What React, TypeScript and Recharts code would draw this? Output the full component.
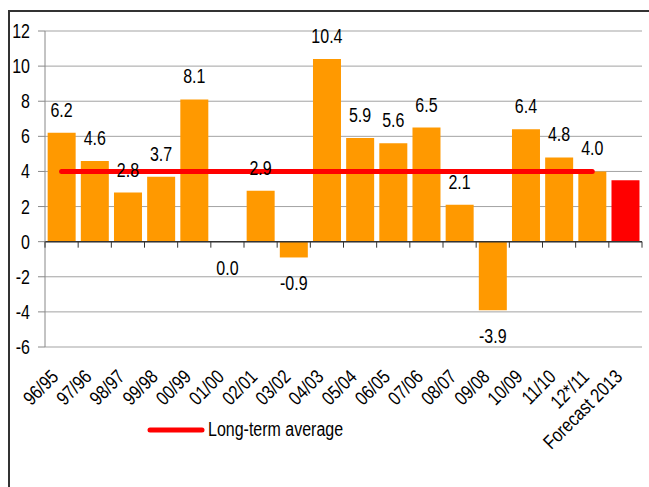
import React from 'react';
import {
  ComposedChart,
  Bar,
  Line,
  Cell,
  XAxis,
  YAxis,
  CartesianGrid,
  ReferenceLine,
  LabelList,
  Legend,
} from 'recharts';

const categories = [
  '96/95', '97/96', '98/97', '99/98', '00/99', '01/00', '02/01', '03/02', '04/03',
  '05/04', '06/05', '07/06', '08/07', '09/08', '10/09', '11/10', '12*/11', 'Forecast 2013',
];
const growth = [6.2, 4.6, 2.8, 3.7, 8.1, 0.0, 2.9, -0.9, 10.4, 5.9, 5.6, 6.5, 2.1, -3.9, 6.4, 4.8, 4.0, 3.5];
const shownLabels = [true, true, true, true, true, true, true, true, true, true, true, true, true, true, true, true, true, false];
const longTermAverage = [4.0, 4.0, 4.0, 4.0, 4.0, 4.0, 4.0, 4.0, 4.0, 4.0, 4.0, 4.0, 4.0, 4.0, 4.0, 4.0, 4.0, null];
const yTicks = [-6, -4, -2, 0, 2, 4, 6, 8, 10, 12];

const W = 649;
const H = 487;
const MARGIN = { top: 31, right: 7, bottom: 30, left: 0 };
const Y_AXIS_W = 45;
const X_AXIS_H = 110;
// Liberation Sans squeezed horizontally stands in for Arial Narrow
const FONT = "'Liberation Sans', Arial, sans-serif";
const FS = 19.5;
const NARROW = 0.82;

const data = categories.map((name, i) => ({
  name,
  value: growth[i],
  label: shownLabels[i] ? growth[i].toFixed(1) : null,
  avg: longTermAverage[i],
  forecast: i === categories.length - 1,
}));

const plotTop = MARGIN.top;
const plotHeight = H - MARGIN.top - MARGIN.bottom - X_AXIS_H;
const plotWidth = W - MARGIN.left - MARGIN.right - Y_AXIS_W;
const band = plotWidth / categories.length;
const yZero = plotTop + (plotHeight * 12) / 18;

const NarrowText = ({ x, y, anchor = 'middle', rotate = 0, dy, children }: any) => (
  <text
    transform={`translate(${x}, ${y}) rotate(${rotate}) scale(${NARROW}, 1)`}
    x={0}
    y={0}
    dy={dy}
    textAnchor={anchor}
    fontSize={FS}
    fontFamily={FONT}
    fill="#000"
  >
    {children}
  </text>
);

const XTick = (props: any) => {
  const { x, y, payload, index } = props;
  const last = index === categories.length - 1;
  return (
    <g>
      <line x1={x - band / 2} x2={x - band / 2} y1={yZero} y2={yZero + 6} stroke="#333" />
      {last && <line x1={x + band / 2} x2={x + band / 2} y1={yZero} y2={yZero + 6} stroke="#333" />}
      <NarrowText x={x - 2} y={y + 23} anchor="end" rotate={-45}>
        {payload.value}
      </NarrowText>
    </g>
  );
};

const YTick = (props: any) => {
  const { x, y, payload } = props;
  return (
    <NarrowText x={x} y={y} anchor="end" dy="0.36em">
      {payload.value}
    </NarrowText>
  );
};

// labels sit on the bar end: above positive bars, below zero/negative ones
const BarLabel = (props: any) => {
  const { x, y, value, index } = props;
  if (value == null) return null;
  const ty = growth[index] > 0 ? y - 16 : y + 33;
  return (
    <NarrowText x={x} y={ty}>
      {value}
    </NarrowText>
  );
};

const LegendContent = (props: any) => {
  const items = (props.payload || []).filter((p: any) => p.type !== 'none');
  return (
    <div style={{ display: 'flex', alignItems: 'center' }}>
      {items.map((p: any) => (
        <div key={p.value} style={{ display: 'flex', alignItems: 'center' }}>
          <svg width={58} height={8}>
            <line x1={3} x2={55} y1={4} y2={4} stroke="#FF0000" strokeWidth={5} strokeLinecap="round" />
          </svg>
          <span
            style={{
              fontFamily: FONT,
              fontSize: FS,
              color: '#000',
              marginLeft: 3,
              display: 'inline-block',
              transform: `scaleX(${NARROW})`,
              transformOrigin: 'left center',
              whiteSpace: 'nowrap',
            }}
          >
            {p.value}
          </span>
        </div>
      ))}
    </div>
  );
};

export default function App() {
  return (
    <div style={{ position: 'absolute', left: 0, top: 0, width: W, height: H, background: '#fff', overflow: 'hidden' }}>
      <div
        style={{
          position: 'absolute',
          left: 8,
          top: 10,
          width: W,
          height: H,
          borderLeft: '2px solid #333',
          borderTop: '2px solid #333',
        }}
      />
      <div style={{ position: 'absolute', left: 0, top: 0 }}>
        <ComposedChart width={W} height={H} data={data} margin={MARGIN} barCategoryGap="8%">
          <CartesianGrid horizontal vertical={false} stroke="#a3a3a3" />
          <XAxis
            dataKey="name"
            height={X_AXIS_H}
            axisLine={false}
            tickLine={false}
            interval={0}
            tick={<XTick />}
          />
          <YAxis
            width={Y_AXIS_W}
            domain={[-6, 12]}
            ticks={yTicks}
            interval={0}
            allowDataOverflow
            axisLine={{ stroke: '#888' }}
            tickLine={{ stroke: '#888' }}
            tickSize={7}
            tickMargin={8}
            tick={<YTick />}
          />
          <ReferenceLine y={0} stroke="#333" strokeWidth={1.5} />
          <Bar dataKey="value" legendType="none" isAnimationActive={false}>
            {data.map((d) => (
              <Cell key={d.name} fill={d.forecast ? '#FF0000' : '#FF9900'} />
            ))}
          </Bar>
          <Line
            dataKey="avg"
            name="Long-term average"
            stroke="#FF0000"
            strokeWidth={5}
            strokeLinecap="round"
            dot={false}
            activeDot={false}
            legendType="line"
            isAnimationActive={false}
          />
          {/* invisible series carrying the value labels at each bar end */}
          <Line
            dataKey="value"
            stroke="none"
            dot={false}
            activeDot={false}
            legendType="none"
            isAnimationActive={false}
          >
            <LabelList dataKey="label" content={<BarLabel />} />
          </Line>
          <Legend
            verticalAlign="middle"
            align="center"
            layout="horizontal"
            content={<LegendContent />}
            wrapperStyle={{ top: 418, left: 147, width: 260, height: 24 }}
          />
        </ComposedChart>
      </div>
    </div>
  );
}
